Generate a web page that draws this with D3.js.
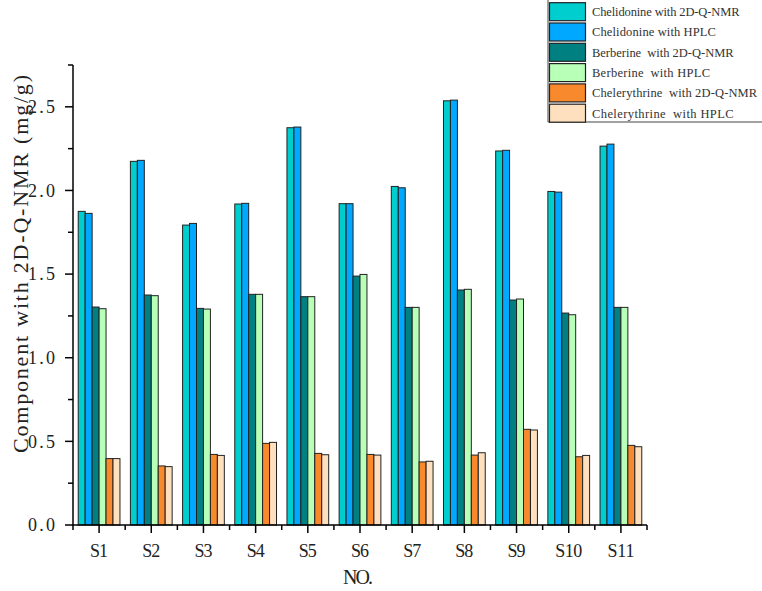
<!DOCTYPE html>
<html><head><meta charset="utf-8">
<script src="https://cdn.jsdelivr.net/npm/d3@7"></script>
<style>body{margin:0;background:#fff}svg{display:block}text{white-space:pre}</style>
</head><body><svg id="c" width="762" height="591"></svg>
<script>
const categories = ["S1","S2","S3","S4","S5","S6","S7","S8","S9","S10","S11"];
const seriesNames = ["Chelidonine with 2D-Q-NMR","Chelidonine with HPLC","Berberine  with 2D-Q-NMR","Berberine  with HPLC","Chelerythrine  with 2D-Q-NMR","Chelerythrine  with HPLC"];
const chelidonineNMR = [1.875,2.174,1.793,1.919,2.375,1.921,2.024,2.536,2.236,1.994,2.265];
const chelidonineHPLC = [1.863,2.180,1.803,1.923,2.379,1.921,2.016,2.540,2.240,1.990,2.277];
const berberineNMR = [1.303,1.375,1.295,1.379,1.365,1.488,1.301,1.405,1.345,1.267,1.301];
const berberineHPLC = [1.293,1.371,1.291,1.379,1.365,1.498,1.301,1.409,1.351,1.257,1.301];
const chelerythrineNMR = [0.397,0.353,0.422,0.488,0.428,0.422,0.377,0.418,0.572,0.408,0.476];
const chelerythrineHPLC = [0.397,0.349,0.416,0.494,0.420,0.418,0.381,0.432,0.568,0.416,0.468];
const colors = ["#00CDCD","#00A8FF","#008080","#B8FFB8","#F8892C","#FFE0BE"];
const yTicks = [0,0.5,1.0,1.5,2.0,2.5];
const yMinorTicks = [0.25,0.75,1.25,1.75,2.25,2.75];
const yLabel = "Component with 2D-Q-NMR (mg/g)";
const xLabel = "NO.";

const series = [chelidonineNMR,chelidonineHPLC,berberineNMR,berberineHPLC,chelerythrineNMR,chelerythrineHPLC];
const svg = d3.select("#c");
const font = "'Liberation Serif', 'DejaVu Serif', serif";
const L=73,R=647,T=65,B=525;
const x0 = d3.scaleBand().domain(categories).range([L,R]).paddingInner(0.2).paddingOuter(0.1);
const x1 = d3.scaleBand().domain(d3.range(6)).range([0,x0.bandwidth()]);
const y = d3.scaleLinear().domain([0,2.75]).range([B,T]);

// bars
const g = svg.append("g");
categories.forEach((c,i)=>{
  series.forEach((s,k)=>{
    g.append("rect").attr("x",x0(c)+x1(k)).attr("y",y(s[i]))
     .attr("width",x1.bandwidth()).attr("height",y(0)-y(s[i]))
     .attr("fill",colors[k]).attr("stroke","#222").attr("stroke-width",1);
  });
});

// y axis
const ya = svg.append("g").attr("stroke","#000");
ya.append("line").attr("x1",L).attr("x2",L).attr("y1",T).attr("y2",B).attr("stroke-width",1.5);
yTicks.forEach(t=>{
  ya.append("line").attr("x1",L-8).attr("x2",L).attr("y1",y(t)).attr("y2",y(t)).attr("stroke-width",1.5);
  svg.append("text").attr("x",L-18).attr("y",y(t)).attr("dy","0.35em").attr("text-anchor","end")
    .attr("font-family",font).attr("font-size",18).attr("fill","#222")
    .attr("textLength",27).attr("lengthAdjust","spacing").text(d3.format(".1f")(t));
});
yMinorTicks.forEach(t=>{
  ya.append("line").attr("x1",L-5).attr("x2",L).attr("y1",y(t)).attr("y2",y(t)).attr("stroke-width",1.5);
});

// x axis
const xa = svg.append("g").attr("stroke","#000");
xa.append("line").attr("x1",L-1).attr("x2",R).attr("y1",B).attr("y2",B).attr("stroke-width",1.5);
const step = x0.step();
categories.forEach((c,i)=>{
  const cx = x0(c)+x0.bandwidth()/2;
  xa.append("line").attr("x1",cx).attr("x2",cx).attr("y1",B).attr("y2",B+8).attr("stroke-width",1.5);
  svg.append("text").attr("x",cx).attr("y",557).attr("text-anchor","middle")
    .attr("font-family",font).attr("font-size",18).attr("fill","#222")
    .attr("textLength",c.length*9).attr("lengthAdjust","spacing").text(c);
});
for(let i=0;i<=categories.length;i++){
  const bx = L+i*step;
  xa.append("line").attr("x1",bx).attr("x2",bx).attr("y1",B).attr("y2",B+5).attr("stroke-width",1.5);
}

// axis titles
svg.append("text").attr("transform","translate(28,264) rotate(-90)").attr("text-anchor","middle")
  .attr("font-family",font).attr("font-size",22).attr("fill","#222")
  .attr("textLength",378).attr("lengthAdjust","spacing").text(yLabel);
svg.append("text").attr("x",358).attr("y",584).attr("text-anchor","middle")
  .attr("font-family",font).attr("font-size",20).attr("fill","#222")
  .attr("textLength",30).attr("lengthAdjust","spacing").text(xLabel);

// legend
const lg = svg.append("g");
lg.append("line").attr("x1",548).attr("x2",548).attr("y1",0).attr("y2",122).attr("stroke","#444").attr("stroke-width",1);
lg.append("line").attr("x1",548).attr("x2",762).attr("y1",122).attr("y2",122).attr("stroke","#444").attr("stroke-width",1);
seriesNames.forEach((n,k)=>{
  const ty = 2.7+k*20.3;
  lg.append("rect").attr("x",549.5).attr("y",ty).attr("width",36).attr("height",18)
    .attr("fill",colors[k]).attr("stroke","#222").attr("stroke-width",1.2);
  lg.append("text").attr("x",592).attr("y",ty+9).attr("dy","0.35em")
    .attr("font-family",font).attr("font-size",12.5).attr("fill","#333")
    .attr("textLength",n.length*5.9).attr("lengthAdjust","spacing").text(n);
});
</script></body></html>
